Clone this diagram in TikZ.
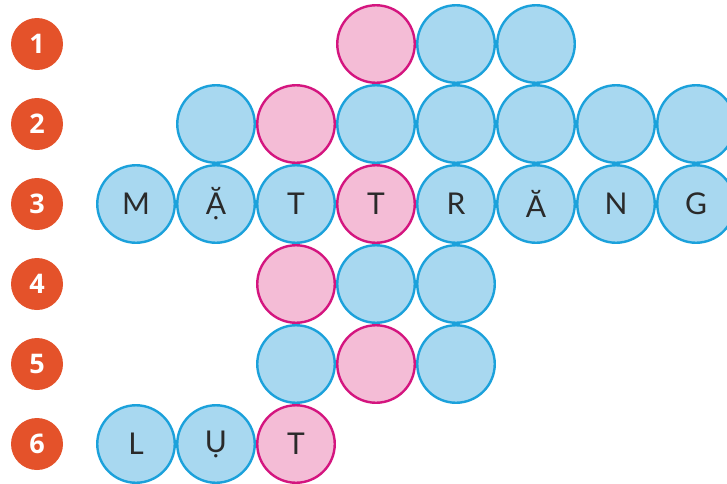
\documentclass[tikz,border=0pt]{standalone}
\usepackage{fontspec}
\setmainfont{Lato}
\newfontfamily\numfont{Open Sans}
\usepackage{tikz}
\usetikzlibrary{positioning}
\definecolor{cellblue}{HTML}{A8D8F0}
\definecolor{rimblue}{HTML}{1BA1DB}
\definecolor{cellpink}{HTML}{F4BCD6}
\definecolor{rimpink}{HTML}{D4157F}
\definecolor{badgeor}{HTML}{E4522A}
\definecolor{letter}{HTML}{2A2A2A}
\tikzset{
  bcell/.style={circle,draw=rimblue,fill=cellblue,line width=2.4pt,minimum size=77.5pt,inner sep=0pt,
    text=letter,font=\fontsize{30}{30}\selectfont},
  pcell/.style={bcell,draw=rimpink,fill=cellpink},
  badge/.style={circle,fill=badgeor,minimum size=52pt,inner sep=0pt,text=white,
    font=\numfont\bfseries\fontsize{27}{27}\selectfont},
}
\begin{document}
\begin{tikzpicture}[x=1pt,y=-1pt]
  \useasboundingbox (0,0) rectangle (727,483);
  % row numbers
  \foreach \r in {1,...,6}{
    \node[badge] (n\r) at (37,{44+80*(\r-1)}) {\r};
  }
  % blue cells: column/row/letter
  \foreach \c/\r/\t in {1/1/,2/1/,
      -2/2/,0/2/,1/2/,2/2/,3/2/,4/2/,
      -3/3/M,-2/3/Ặ,-1/3/T,1/3/R,2/3/Ă,3/3/N,4/3/G,
      0/4/,1/4/,
      -1/5/,1/5/,
      -3/6/L,-2/6/Ụ}{
    \node[bcell] (b\r\c) at ({376+80*\c},{44+80*(\r-1)}) {\t};
  }
  % pink cells (key column)
  \foreach \c/\r/\t in {0/1/,-1/2/,0/3/T,-1/4/,0/5/,-1/6/T}{
    \node[pcell] (p\r\c) at ({376+80*\c},{44+80*(\r-1)}) {\t};
  }
\end{tikzpicture}
\end{document}
